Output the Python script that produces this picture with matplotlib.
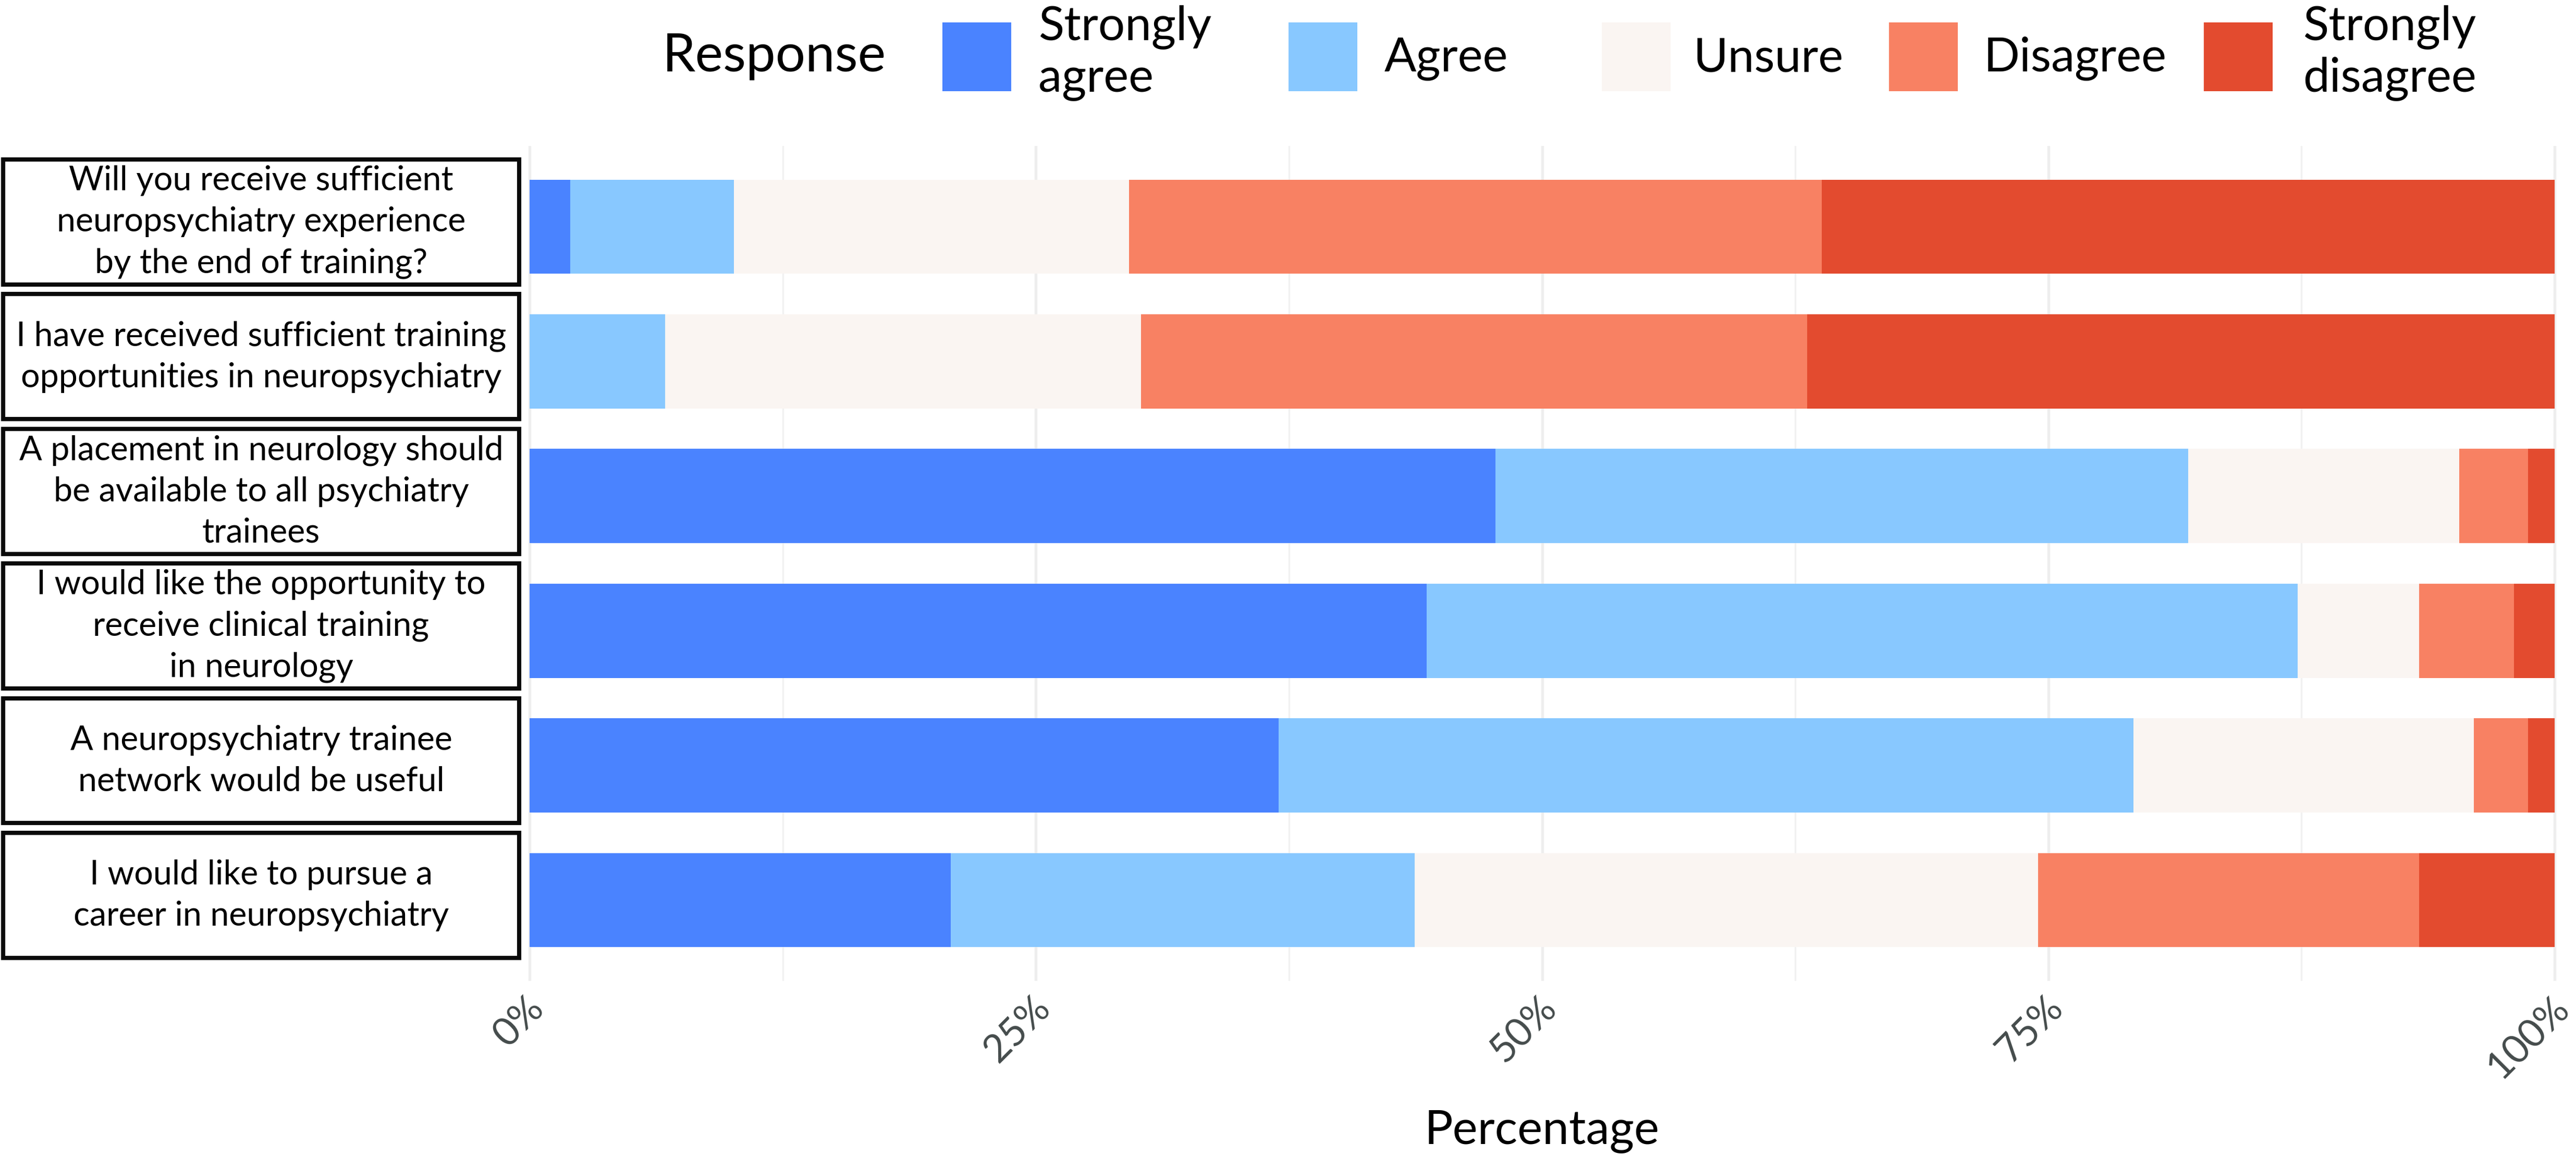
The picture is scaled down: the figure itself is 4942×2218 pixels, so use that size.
import matplotlib
matplotlib.use('Agg')
import matplotlib.pyplot as plt
import matplotlib.transforms as mtransforms
from matplotlib.patches import Rectangle
from matplotlib.ticker import PercentFormatter, MultipleLocator
from matplotlib.font_manager import FontProperties
import numpy as np

plt.rcParams['font.family'] = ['Lato', 'DejaVu Sans']
FAM = ['Lato', 'DejaVu Sans']

# ---------------- data ----------------
questions = [
    "Will you receive sufficient\nneuropsychiatry experience\nby the end of training?",
    "I have received sufficient training\nopportunities in neuropsychiatry",
    "A placement in neurology should\nbe available to all psychiatry\ntrainees",
    "I would like the opportunity to\nreceive clinical training\nin neurology",
    "A neuropsychiatry trainee\nnetwork would be useful",
    "I would like to pursue a\ncareer in neuropsychiatry",
]
responses = ["Strongly agree", "Agree", "Unsure", "Disagree", "Strongly disagree"]
legend_labels = ["Strongly\nagree", "Agree", "Unsure", "Disagree", "Strongly\ndisagree"]
strongly_agree    = [2.0, 0.0, 47.7, 44.3, 37.0, 20.8]
agree             = [8.1, 6.7, 34.2, 43.0, 42.2, 22.9]
unsure            = [19.5, 23.5, 13.4, 6.0, 16.8, 30.8]
disagree          = [34.2, 32.9, 3.4, 4.7, 2.7, 18.8]
strongly_disagree = [36.2, 36.9, 1.3, 2.0, 1.3, 6.7]
colors = ["#4A83FF", "#88C8FF", "#FAF5F2", "#F88163", "#E34B2F"]
xticks = [0, 25, 50, 75, 100]

series = [strongly_agree, agree, unsure, disagree, strongly_disagree]

# ---------------- figure ----------------
W, H, DPI = 4942, 2218, 300
fig = plt.figure(figsize=(W / DPI, H / DPI), dpi=DPI)
fig.patch.set_facecolor('white')
renderer = fig.canvas.get_renderer()

def fx(x):
    return x / W

def fy(y):
    return 1 - y / H

def fit(text, target_px):
    t = fig.text(0, 0, text, fontsize=20, family=FAM)
    w = t.get_window_extent(renderer).width
    t.remove()
    return 20 * target_px / w

def ls_for(pitch_px, fs):
    fp = FontProperties(family=FAM, size=fs)
    _, h, d = renderer.get_text_width_height_descent('lp', fp, ismath=False)
    return (pitch_px - d) / (h - d)

# axes: 0% at x=1016 px, 100% at 4901 px
x0px, x100px = 1016, 4901
ppu = (x100px - x0px) / 100.0
xpad = 0.5
ax_left = x0px - xpad * ppu
ax_right = x100px + xpad * ppu
ax_top, ax_bot = 280, 1882
ax = fig.add_axes([fx(ax_left), fy(ax_bot), (ax_right - ax_left) / W, (ax_bot - ax_top) / H])

n = len(questions)
ypos = np.arange(n)
left = np.zeros(n)
for vals, col, name in zip(series, colors, responses):
    ax.barh(ypos, vals, left=left, height=0.7, color=col, edgecolor='none',
            linewidth=0, label=name, zorder=2)
    left = left + np.array(vals)

ax.set_xlim(-xpad, 100 + xpad)
ax.set_ylim(n - 0.4, -0.6)
ax.set_xticks(xticks)
ax.xaxis.set_minor_locator(MultipleLocator(12.5))
ax.xaxis.set_major_formatter(PercentFormatter(xmax=100, decimals=0))
ax.set_yticks([])
for s in ax.spines.values():
    s.set_visible(False)
ax.set_axisbelow(True)
ax.grid(which='major', axis='x', color='#EEEEEE', linewidth=1.3, zorder=0)
ax.grid(which='minor', axis='x', color='#F1F1F1', linewidth=0.8, zorder=0)
ax.tick_params(axis='x', which='both', length=0, pad=4)
ax.tick_params(axis='y', which='both', length=0)

tick_fs = fit("100%", 190)
offset = mtransforms.ScaledTranslation(-8 / DPI, 0, fig.dpi_scale_trans)
for lab in ax.get_xticklabels():
    lab.set_fontsize(tick_fs)
    lab.set_color('#444B4B')
    lab.set_rotation(45)
    lab.set_ha('right')
    lab.set_va('top')
    lab.set_rotation_mode('anchor')
    lab.set_transform(lab.get_transform() + offset)

# question boxes on the left
trans = mtransforms.blended_transform_factory(fig.transFigure, ax.transData)
box_fs = fit("I have received sufficient training", 943)
box_ls = ls_for(79, box_fs)
bx0, bx1 = 6, 996
bh = 0.928
for i, q in enumerate(questions):
    yc = i - 0.035
    rect = Rectangle((fx(bx0), yc - bh / 2), (bx1 - bx0) / W, bh, transform=trans,
                     facecolor='white', edgecolor='#0A0A0A', linewidth=1.95, clip_on=False)
    ax.add_artist(rect)
    ax.text(fx((bx0 + bx1) / 2), yc, q, transform=trans, ha='center', va='center',
            multialignment='center', fontsize=box_fs, linespacing=box_ls,
            color='black', clip_on=False)

# x axis title
pct_fs = fit("Percentage", 451)
fig.text(fx((x0px + x100px) / 2), fy(2195), "Percentage", ha='center', va='baseline',
         fontsize=pct_fs, color='black')

# legend (drawn manually to match layout)
leg_fs = fit("Disagree", 352)
leg_ls = ls_for(97, leg_fs)
title_fs = fit("Response", 430)
fig.text(fx(1271), fy(137), "Response", ha='left', va='baseline', fontsize=title_fs, color='black')
key_x = [1808, 2472, 3073, 3624, 4228]
lab_x = [1992, 2656, 3248, 3806, 4418]
key_w = 132
key_top, key_bot = 43, 175
for kx, lx, col, lab in zip(key_x, lab_x, colors, legend_labels):
    r = Rectangle((fx(kx), fy(key_bot)), key_w / W, (key_bot - key_top) / H,
                  transform=fig.transFigure, facecolor=col, edgecolor='none')
    fig.add_artist(r)
    base = 176 if '\n' in lab else 137   # baseline of the last line
    fig.text(fx(lx), fy(base), lab, ha='left', va='baseline', fontsize=leg_fs,
             linespacing=leg_ls, color='black')

fig.savefig('out.png', dpi=DPI, facecolor='white')
